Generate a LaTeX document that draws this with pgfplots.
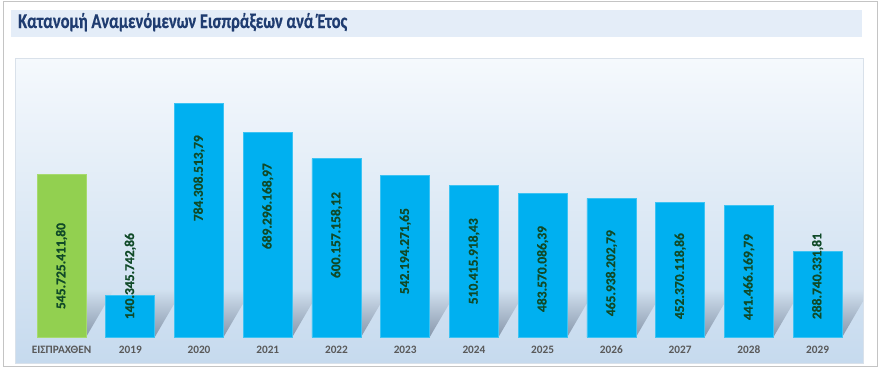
\documentclass[border=0pt]{standalone}
\usepackage{fontspec}
\setmainfont{Carlito}
\newfontfamily\heavy{Carlito}[UprightFeatures={FakeBold=0.6}, BoldFeatures={FakeBold=0.6}]
\usepackage{graphicx}
\usepackage{pgfplots}
\pgfplotsset{compat=1.18}
\definecolor{titlec}{HTML}{1F3C70}
\definecolor{bandc}{HTML}{E4EDF8}
\definecolor{framec}{HTML}{C4C4C4}
\definecolor{paneltop}{HTML}{F5F9FD}
\definecolor{panelbot}{HTML}{C6DAEE}
\definecolor{panelline}{HTML}{D9E1EA}
\definecolor{bluec}{HTML}{00B0F0}
\definecolor{blueedge}{HTML}{3CC3F3}
\definecolor{greenc}{HTML}{92D050}
\definecolor{greenedge}{HTML}{A6DA6E}
\definecolor{labc}{HTML}{104A28}
\definecolor{tickc}{HTML}{595959}
\definecolor{shadowc}{HTML}{8797AB}
\definecolor{shadowtop}{HTML}{D2E1F0}
\tikzset{vlab/.style={rotate=90, text=labc, inner sep=0pt, font=\heavy\bfseries\fontsize{13.5}{13.5}\selectfont}}
\begin{document}
\begin{tikzpicture}
\path[use as bounding box] (0pt,0pt) rectangle (880pt,368pt);
\fill[white] (0pt,0pt) rectangle (880pt,368pt);
\draw[framec, line width=1pt] (3pt,2pt) rectangle (877pt,367pt);
\fill[bandc] (11pt,331pt) rectangle (862pt,358pt);
\node[anchor=base west, inner sep=0pt, text=titlec, font=\heavy\bfseries\fontsize{21}{21}\selectfont] at (18pt,340pt) {\resizebox{329pt}{\height}{Κατανομή Αναμενόμενων Εισπράξεων ανά Έτος}};
\begin{axis}[
  at={(15pt,5pt)}, anchor=south west,
  scale only axis, width=848pt, height=305pt,
  xmin=-0.677, xmax=11.66, ymin=-87, ymax=938,
  axis background/.style={shade, top color=paneltop, bottom color=panelbot, draw=panelline},
  axis line style={draw=none},
  tick style={draw=none},
  ytick=\empty,
  xtick={0,...,11},
  xticklabels={ΕΙΣΠΡΑΧΘΕΝ,2019,2020,2021,2022,2023,2024,2025,2026,2027,2028,2029},
  xticklabel style={anchor=center, yshift=13pt, text=tickc, font=\bfseries\fontsize{11.3}{11.3}\selectfont},
]
% decorative floor shadows behind the bars
\pgfplotsinvokeforeach{0,...,11}{
  \addplot[draw=none, shade, bottom color=shadowc, top color=shadowtop]
    coordinates {(#1-0.3565,0) (#1+0.3565,0) (#1+0.76,160) (#1+0.04,160)} -- cycle;
}
% collected amount
\addplot[ybar, bar width=49pt, bar shift=0pt, fill=greenc, draw=greenedge, line width=0.6pt]
  coordinates {(0,545.725)};
% expected receipts per year (million)
\addplot[ybar, bar width=49pt, bar shift=0pt, fill=bluec, draw=blueedge, line width=0.6pt]
  coordinates {(1,140.346) (2,784.309) (3,689.296) (4,600.157) (5,542.194) (6,510.416)
               (7,483.570) (8,465.938) (9,452.370) (10,441.466) (11,288.740)};
\node[vlab] at (axis cs:0,239) {545.725.411,80};
\node[vlab] at (axis cs:1,205) {140.345.742,86};
\node[vlab] at (axis cs:2,534) {784.308.513,79};
\node[vlab] at (axis cs:3,440) {689.296.168,97};
\node[vlab] at (axis cs:4,343) {600.157.158,12};
\node[vlab] at (axis cs:5,289) {542.194.271,65};
\node[vlab] at (axis cs:6,255) {510.415.918,43};
\node[vlab] at (axis cs:7,229) {483.570.086,39};
\node[vlab] at (axis cs:8,215) {465.938.202,79};
\node[vlab] at (axis cs:9,205) {452.370.118,86};
\node[vlab] at (axis cs:10,202) {441.466.169,79};
\node[vlab] at (axis cs:11,205) {288.740.331,81};
\end{axis}
\end{tikzpicture}
\end{document}
